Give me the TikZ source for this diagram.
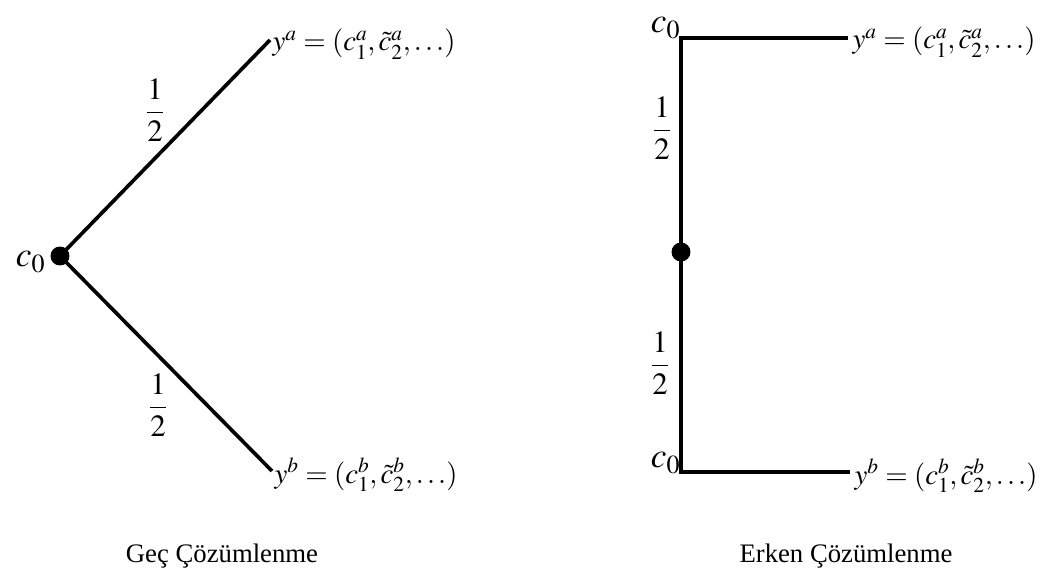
\documentclass[tikz,border=0pt]{standalone}
\usepackage{amsmath}
\usepackage{mathptmx}
\usepackage[no-math]{fontspec}
\setmainfont{Liberation Serif}
\begin{document}
\begin{tikzpicture}[x=0.025cm,y=-0.025cm,
  edge/.style={line width=2.6pt},
  dotnode/.style={circle,fill=black,inner sep=0pt,minimum size=13.5pt},
  lbl/.style={font=\fontsize{20.5}{24}\selectfont,inner sep=1pt},
  clbl/.style={font=\fontsize{25}{28}\selectfont,inner sep=1pt},
  frac/.style={font=\fontsize{22}{26}\selectfont,inner sep=1pt},
  captxt/.style={font=\fontsize{19}{22}\selectfont}]
\useasboundingbox (0,0) rectangle (1048,576);
% Left tree
\node[dotnode] (L0) at (60,256) {};
\coordinate (La) at (270,40);
\coordinate (Lb) at (272,471);
\draw[edge] (L0.center) -- (La);
\draw[edge] (L0.center) -- (Lb);
\node[clbl,anchor=east] (Lc0) at (47,262) {$c_0$};
\node[lbl,anchor=west] (Lya) at (271,44) {$y^a=(c_1^a,\tilde c_2^a,\ldots)$};
\node[lbl,anchor=west] (Lyb) at (273,475) {$y^b=(c_1^b,\tilde c_2^b,\ldots)$};
\node[frac] (Lfa) at (155,110) {$\dfrac{1}{2}$};
\node[frac] (Lfb) at (158,405) {$\dfrac{1}{2}$};
\node[captxt] (Lcap) at (222,556) {Geç Çözümlenme};
% Right tree
\coordinate (Rt) at (681,38);
\coordinate (Rb) at (681,472);
\node[dotnode] (R0) at (681,252) {};
\coordinate (Ra) at (848,38);
\coordinate (Rbb) at (850,472);
\draw[edge] (Ra) -- (Rt) -- (Rb) -- (Rbb);
\node[clbl,anchor=east] (Rc0t) at (682,28) {$c_0$};
\node[clbl,anchor=east] (Rc0b) at (682,463) {$c_0$};
\node[lbl,anchor=west] (Rya) at (851,42) {$y^a=(c_1^a,\tilde c_2^a,\ldots)$};
\node[lbl,anchor=west] (Ryb) at (853,476) {$y^b=(c_1^b,\tilde c_2^b,\ldots)$};
\node[frac] (Rfa) at (662,128) {$\dfrac{1}{2}$};
\node[frac] (Rfb) at (660,363) {$\dfrac{1}{2}$};
\node[captxt] (Rcap) at (846,556) {Erken Çözümlenme};
\end{tikzpicture}
\end{document}
